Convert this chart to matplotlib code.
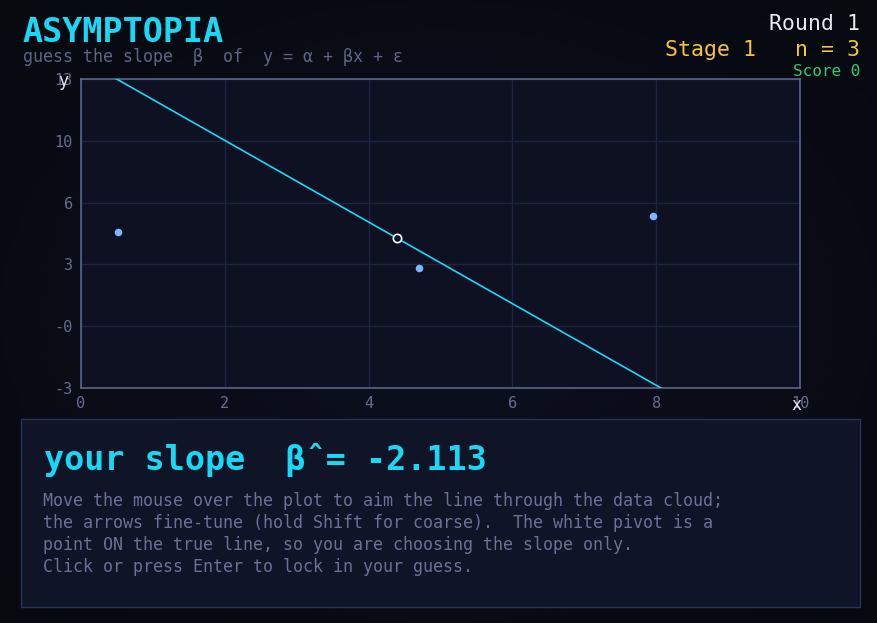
import numpy as np
import matplotlib.pyplot as plt
from matplotlib.patches import Rectangle

# data
pts_x = [0.51, 4.70, 7.95]
pts_y = [5.08, 3.21, 5.91]
pivot = (4.39, 4.77)
slope_guess = -2.113

x_ticks = [0, 2, 4, 6, 8, 10]
y_ticks = list(np.linspace(-3, 13, 6))
y_labels = ['-3', '-0', '3', '6', '10', '13']

round_no = 1
stage_no = 1
n_pts = 3
score = 0

BG = '#0a0d19'
AX_BG = '#0d1122'
GRID = '#1c2440'
SPINE = '#5a6488'
TICK = '#656d92'
CYAN = '#19d8f5'
MONO = 'DejaVu Sans Mono'

plt.rcParams['font.family'] = [MONO, 'DejaVu Sans']

fig = plt.figure(figsize=(8.78, 6.23), dpi=100)
fig.patch.set_facecolor(BG)

# slight vignette behind everything
bg = fig.add_axes([0, 0, 1, 1], zorder=-10)
gx, gy = np.meshgrid(np.linspace(-1, 1, 200), np.linspace(-1, 1, 200))
rr = np.clip(np.sqrt(gx**2 + gy**2) / 1.4, 0, 1)
bg.imshow(rr, cmap=plt.matplotlib.colors.LinearSegmentedColormap.from_list(
    'v', ['#0d1020', '#07090f']), extent=[0, 1, 0, 1], aspect='auto')
bg.set_axis_off()

ax = fig.add_axes([81/878, 1-388/623, 719/878, 309/623])
ax.set_facecolor(AX_BG)
ax.set_xlim(0, 10)
ax.set_ylim(-3, 13)
ax.set_xticks(x_ticks)
ax.set_xticklabels([str(v) for v in x_ticks])
ax.set_yticks(y_ticks)
ax.set_yticklabels(y_labels)
ax.tick_params(length=0, labelsize=11, colors=TICK, pad=6)
ax.grid(True, color=GRID, lw=1)
ax.set_axisbelow(True)
for s in ax.spines.values():
    s.set_color(SPINE)
    s.set_linewidth(1.2)

# guessed line through the pivot
lx = np.array([-1.0, 11.0])
ly = pivot[1] + slope_guess * (lx - pivot[0])
ax.plot(lx, ly, color=CYAN, lw=1.2, zorder=3)
ax.scatter(pts_x, pts_y, s=30, color='#7fb4ff', zorder=4, lw=0)
ax.scatter([pivot[0]], [pivot[1]], s=36, facecolor=AX_BG, edgecolor='white',
           lw=1.2, zorder=5)

ax.text(-0.025, 0.977, 'y', transform=ax.transAxes, color='#e6e8f0',
        fontsize=12, ha='center', va='baseline')
ax.text(0.995, -0.07, 'x', transform=ax.transAxes, color='#e6e8f0',
        fontsize=12, ha='center', va='baseline')

# header
fig.text(22/878, 1-42/623, 'ASYMPTOPIA', color=CYAN, fontsize=24,
         fontweight='bold', ha='left', va='baseline')
fig.text(23/878, 1-62/623, 'guess the slope  \u03b2  of  y = \u03b1 + \u03b2x + \u03b5',
         color='#5d6585', fontsize=12, ha='left', va='baseline')
fig.text(860/878, 1-30/623, 'Round %d' % round_no, color='#e8e8f0',
         fontsize=15.5, ha='right', va='baseline')
fig.text(860/878, 1-56/623, 'Stage %d   n = %d' % (stage_no, n_pts),
         color='#f5c542', fontsize=15.5, ha='right', va='baseline')
fig.text(860/878, 1-76/623, 'Score %d' % score, color='#2ecc71',
         fontsize=11.5, ha='right', va='baseline')

# bottom panel
fig.patches.append(Rectangle((21/878, 1-607/623), 839/878, 188/623,
                             transform=fig.transFigure, facecolor='#0f1427',
                             edgecolor='#25345a', lw=1, zorder=0))
fig.text(44/878, 1-470/623, 'your slope  \u03b2\u02c6= %.3f' % slope_guess,
         color=CYAN, fontsize=24, fontweight='bold', ha='left', va='baseline')
body = ['Move the mouse over the plot to aim the line through the data cloud;',
        'the arrows fine-tune (hold Shift for coarse).  The white pivot is a',
        'point ON the true line, so you are choosing the slope only.',
        'Click or press Enter to lock in your guess.']
for i, line in enumerate(body):
    fig.text(43/878, 1-(506 + 22*i)/623, line, color='#6a7196',
             fontsize=12, ha='left', va='baseline')

fig.savefig('out.png', dpi=100, facecolor=BG)
